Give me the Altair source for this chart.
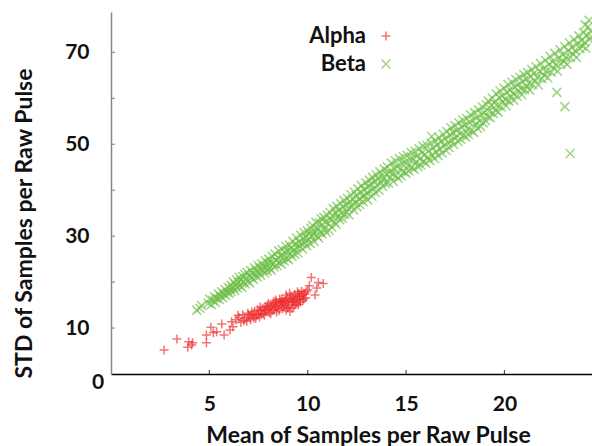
import altair as alt
import pandas as pd

# ---------------- data ----------------
series = ["Alpha", "Beta"]
colors = ["#ee2a2a", "#6cbf45"]

alpha_x = [2.7, 3.35, 3.95, 3.9, 4.1, 4.15, 4.85, 4.85, 5.08, 5.2, 5.37, 5.63, 5.75, 6.05, 6.13, 6.2,
           6.35, 6.5, 6.6, 6.7, 6.8, 6.9, 6.95, 7.0, 7.05, 7.1, 7.2, 7.25, 7.3, 7.4, 7.45, 7.5, 7.55,
           7.6, 7.7, 7.75, 7.8, 7.85, 7.9, 8.0, 8.0, 8.05, 8.1, 8.15, 8.2, 8.25, 8.3, 8.35, 8.4, 8.45,
           8.5, 8.55, 8.6, 8.65, 8.7, 8.75, 8.8, 8.85, 8.9, 8.9, 8.95, 9.0, 9.05, 9.1, 9.1, 9.15, 9.2,
           9.25, 9.3, 9.3, 9.35, 9.4, 9.45, 9.5, 9.55, 9.6, 9.7, 9.75, 9.85, 9.9, 10.0, 10.08, 10.18,
           10.37, 10.46, 10.54, 10.79,
           7.15, 7.35, 7.65, 7.95, 8.12, 8.28, 8.42, 8.58, 8.72, 8.82, 8.98, 9.08, 9.22, 9.38, 9.48,
           9.62, 9.68, 9.78, 9.92, 9.58, 8.38, 8.68, 7.82, 7.58, 6.75, 6.45, 9.2, 8.9, 9.52, 9.8]
alpha_y = [5.2, 7.6, 7.0, 5.8, 6.3, 6.8, 8.5, 6.8, 10.2, 9.0, 9.2, 10.9, 8.5, 9.6, 11.4, 10.3,
           11.8, 12.3, 11.2, 12.9, 12.0, 11.5, 13.2, 12.9, 12.4, 11.8, 13.0, 12.2, 13.6, 12.7, 14.0, 13.1, 12.4,
           13.8, 14.3, 13.2, 12.8, 14.6, 13.7, 14.2, 15.4, 13.4, 15.0, 14.6, 13.9, 15.3, 14.1, 14.8, 15.6, 14.4,
           15.1, 13.8, 15.8, 14.9, 16.2, 15.4, 14.6, 16.0, 15.2, 17.2, 16.6, 15.7, 14.9, 16.3, 13.6, 17.0, 15.6,
           16.6, 15.9, 14.8, 17.3, 16.4, 15.5, 16.9, 17.5, 16.2, 17.1, 16.0, 17.4, 16.6, 18.3, 19.2, 21.0,
           17.2, 18.7, 19.9, 19.7,
           13.5, 12.1, 13.0, 14.9, 13.1, 15.8, 13.5, 16.3, 14.2, 15.8, 14.4, 17.6, 16.1, 15.2, 17.9,
           15.6, 18.0, 17.6, 17.9, 16.8, 16.1, 15.7, 13.9, 14.6, 11.6, 12.8, 14.3, 13.9, 15.1, 16.4]

beta_x = [
    4.36, 4.52, 4.6, 4.95, 5.02, 5.1, 5.18, 5.25, 5.3, 5.38, 5.45, 5.5, 5.55, 5.62, 5.68, 5.72, 5.8,
    5.83, 5.9, 5.96, 6.0, 6.05, 6.1,
    6.12, 6.18, 6.22, 6.28, 6.33, 6.38, 6.42, 6.47, 6.52, 6.55, 6.6, 6.66, 6.7, 6.74, 6.8, 6.83, 6.88,
    6.92, 6.97, 7.02, 7.05, 7.1, 7.14, 7.2, 7.24, 7.3, 7.33, 7.38, 7.43, 7.48, 7.52, 7.57, 7.6, 7.66,
    7.7, 7.75, 7.8, 7.84, 7.88, 7.93, 7.97,
    8.02, 8.06, 8.1, 8.15, 8.2, 8.24, 8.3, 8.34, 8.38, 8.43, 8.48, 8.52, 8.57, 8.62, 8.66, 8.7, 8.75,
    8.8, 8.84, 8.88, 8.93, 8.97, 9.02, 9.06, 9.1, 9.15, 9.2, 9.24, 9.28, 9.33, 9.37, 9.42, 9.46, 9.5,
    9.55, 9.6, 9.64, 9.68, 9.73, 9.78, 9.82, 9.86, 9.9, 9.95, 9.98,
    10.03, 10.07, 10.12, 10.16, 10.2, 10.25, 10.29, 10.33, 10.38, 10.42, 10.47, 10.5, 10.55, 10.6,
    10.64, 10.68, 10.72, 10.77, 10.82, 10.86, 10.9, 10.95, 11.0, 11.04, 11.08, 11.13, 11.17, 11.22,
    11.26, 11.3, 11.35, 11.4, 11.44, 11.48, 11.53, 11.57, 11.62, 11.66, 11.7, 11.75, 11.8, 11.84,
    11.88, 11.93, 11.97,
    12.02, 12.06, 12.1, 12.15, 12.2, 12.24, 12.28, 12.33, 12.37, 12.42, 12.46, 12.5, 12.55, 12.6,
    12.64, 12.68, 12.73, 12.78, 12.82, 12.86, 12.9, 12.95, 13.0, 13.04, 13.08, 13.13, 13.18, 13.22,
    13.26, 13.3, 13.35, 13.4, 13.44, 13.48, 13.53, 13.58, 13.62, 13.67, 13.72, 13.76, 13.8, 13.85,
    13.9, 13.95,
    14.0, 14.05, 14.1, 14.15, 14.2, 14.25, 14.3, 14.35, 14.4, 14.45, 14.5, 14.55, 14.6, 14.66, 14.7,
    14.75, 14.8, 14.86, 14.9, 14.95, 15.0, 15.05, 15.1, 15.15, 15.2, 15.26, 15.3, 15.35, 15.4, 15.45,
    15.5, 15.55, 15.6, 15.66, 15.7, 15.75, 15.8, 15.86, 15.9, 15.95, 16.0, 16.05, 16.1, 16.16, 16.2,
    16.3, 16.26, 16.32, 16.38, 16.44, 16.48,
    16.53, 16.58, 16.63, 16.68, 16.72, 16.78, 16.83, 16.88, 16.93, 16.98, 17.03, 17.08, 17.13, 17.18,
    17.23, 17.28, 17.33, 17.38, 17.43, 17.48, 17.53, 17.58, 17.63, 17.68, 17.73, 17.78, 17.83, 17.88,
    17.93, 17.98, 18.03, 18.08, 18.13, 18.18, 18.23, 18.28, 18.33, 18.38, 18.43, 18.48, 18.53, 18.58,
    18.63, 18.68, 18.73, 18.78, 18.83, 18.88, 18.93, 18.98,
    19.03, 19.08, 19.13, 19.18, 19.23, 19.28, 19.33, 19.38, 19.43, 19.48, 19.53, 19.58, 19.63, 19.68,
    19.73, 19.78, 19.83, 19.88, 19.93, 19.98, 20.03, 20.08, 20.13, 20.18, 20.23, 20.28, 20.33, 20.38,
    20.43, 20.48, 20.53, 20.58, 20.63, 20.68, 20.73, 20.78, 20.83, 20.88, 20.93, 20.98, 21.03, 21.08,
    21.13, 21.18, 21.23, 21.28, 21.33, 21.38, 21.43, 21.48,
    21.55, 21.6, 21.66, 21.72, 21.78, 21.84, 21.9, 21.96, 22.02, 22.08, 22.14, 22.2, 22.26, 22.32,
    22.38, 22.44, 22.5, 22.56, 22.62, 22.66, 22.7, 22.76, 22.82, 22.88, 22.94, 23.0, 23.07, 23.06,
    23.12, 23.18, 23.24, 23.3, 23.34, 23.36, 23.42, 23.48, 23.54, 23.6, 23.66, 23.72, 23.78, 23.84,
    23.9, 23.96, 24.02, 24.08, 24.14, 24.2, 24.26, 24.32, 24.38, 24.44, 24.1, 24.3]
beta_y = [
    13.9, 14.3, 14.9, 15.4, 16.3, 15.1, 16.0, 16.8, 15.6, 16.5, 17.4, 16.2, 17.0, 17.9, 16.6, 17.5, 18.4,
    17.1, 17.8, 18.9, 17.6, 18.5, 19.3,
    17.9, 18.8, 20.0, 18.2, 19.4, 20.5, 18.7, 19.9, 21.0, 19.1, 20.3, 18.9, 21.2, 20.0, 21.7, 19.6, 20.8,
    22.1, 20.2, 21.4, 19.8, 22.5, 21.0, 22.0, 20.6, 23.1, 21.6, 22.5, 21.1, 23.6, 22.1, 23.0, 21.5, 24.0,
    22.6, 23.5, 22.0, 24.6, 23.1, 22.4, 24.1,
    25.0, 23.0, 24.4, 22.6, 25.6, 24.0, 23.3, 26.1, 24.7, 23.6, 25.3, 26.8, 24.2, 25.8, 23.9, 27.1, 25.4,
    24.6, 26.5, 27.8, 25.2, 26.9, 24.9, 28.1, 26.2, 27.4, 25.6, 28.9, 27.0, 26.1, 28.3, 29.6, 27.5, 26.4,
    28.8, 27.8, 30.2, 28.4, 27.2, 29.5, 30.8, 28.6, 29.9, 27.9, 31.2,
    29.3, 30.6, 28.4, 31.7, 29.9, 32.3, 30.4, 28.9, 31.2, 33.0, 30.1, 31.8, 29.6, 32.9,
    31.0, 33.8, 30.5, 32.4, 34.1, 31.5, 33.2, 30.8, 34.6, 32.7, 31.3, 35.2, 33.5, 32.0,
    34.4, 36.0, 33.1, 35.1, 32.6, 36.5, 34.3, 35.7, 33.6, 37.1, 35.0, 33.9, 36.4, 37.8,
    34.8, 36.9, 35.3,
    38.2, 36.0, 34.6, 37.4, 39.0, 36.5, 38.1, 35.7, 39.6, 37.3, 38.8, 36.4, 40.3, 38.0,
    36.9, 39.5, 41.0, 38.6, 37.5, 40.2, 38.9, 41.6, 39.3, 37.9, 40.8, 42.2, 39.8, 41.3,
    38.7, 42.8, 40.4, 41.9, 39.5, 43.3, 41.1, 42.5, 40.0, 44.0, 41.7, 43.2, 40.8, 42.4,
    44.6, 41.5,
    43.5, 45.1, 41.6, 44.0, 42.8, 45.9, 43.6, 41.9, 44.7, 46.4, 43.2, 45.2, 42.6, 46.9, 44.5,
    43.1, 45.8, 47.3, 44.0, 46.1, 43.7, 47.6, 45.3, 44.2, 46.7, 48.2, 45.0, 46.9, 44.6, 48.5,
    46.1, 47.4, 45.2, 49.0, 46.8, 45.5, 48.1, 49.6, 46.3, 47.8, 45.9, 49.8, 47.2, 48.6, 46.5,
    51.7, 50.3, 47.6, 49.2, 46.9, 50.7,
    48.3, 49.9, 47.5, 51.4, 49.0, 50.6, 48.1, 52.2, 49.8, 51.2, 48.7, 52.8, 50.4, 49.3,
    52.0, 53.6, 50.8, 52.6, 49.9, 54.1, 51.5, 53.0, 50.6, 54.7, 52.3, 51.1, 53.8, 55.3,
    52.0, 54.2, 51.6, 55.6, 53.3, 52.1, 54.8, 56.4, 53.0, 55.2, 52.6, 56.9, 54.3, 55.8,
    53.5, 57.5, 55.0, 53.9, 56.5, 58.1, 54.7, 56.9,
    55.2, 58.6, 56.1, 59.4, 57.2, 55.8, 58.5, 60.1, 56.7, 59.0, 57.5, 61.0, 58.6, 57.0,
    60.2, 61.6, 58.1, 60.5, 59.2, 62.2, 59.8, 58.4, 61.3, 63.0, 59.4, 61.8, 60.3, 63.5,
    61.1, 59.6, 62.4, 64.1, 60.5, 62.9, 61.6, 64.6, 62.2, 60.8, 63.6, 65.2, 61.9, 64.2,
    62.7, 65.6, 63.3, 61.8, 64.7, 66.3, 63.0, 65.4,
    63.8, 66.9, 64.6, 62.9, 65.9, 67.6, 64.3, 66.4, 65.0, 68.3, 66.0, 64.5, 67.4, 69.1,
    65.7, 68.0, 66.6, 69.8, 67.3, 61.3, 65.9, 68.7, 70.6, 67.5, 69.5, 68.1, 58.2, 71.3,
    69.0, 67.4, 70.3, 72.1, 48.0, 68.9, 71.1, 69.7, 72.8, 70.4, 68.9, 71.9, 73.6, 70.8,
    72.6, 71.4, 74.3, 72.2, 70.9, 73.7, 75.6, 72.8, 74.6, 73.4, 76.0, 77.0]

x_tick_values = [5, 10, 15, 20]
y_tick_values = [10, 20, 30, 40, 50, 60, 70]
zero_label = ["0"]

x_title = "Mean of Samples per Raw Pulse"
y_title = "STD of Samples per Raw Pulse"

# ---------------- chart ----------------
df = pd.concat([
    pd.DataFrame({"series": "Alpha", "x": alpha_x, "y": alpha_y}),
    pd.DataFrame({"series": "Beta", "x": beta_x, "y": beta_y}),
], ignore_index=True)

FONT = "Lato"
TXT = "#111111"
plus_path = "M-1,0L1,0M0,-1L0,1"
cross_path = "M-1,-1L1,1M-1,1L1,-1"

x_scale = alt.Scale(domain=[0, 24.45], nice=False, zero=False)
y_scale = alt.Scale(domain=[0, 78.8], nice=False, zero=False)

legend = alt.Legend(
    title=None, orient="none", legendX=264, legendY=13,
    labelFont=FONT, labelFontSize=22, labelFontWeight="bold", labelColor=TXT,
    labelAlign="right", labelOffset={"expr": "-31"}, symbolOffset=0, rowPadding=6, padding=0,
    symbolSize=81, symbolStrokeWidth=1.5,
)

points = alt.Chart(df).mark_point(filled=False, size=81, strokeWidth=1.5, opacity=0.65).encode(
    x=alt.X("x:Q", scale=x_scale, axis=alt.Axis(
        values=x_tick_values, title=x_title, grid=False, ticks=False,
        domainColor="#000000", domainWidth=1.5,
        labelFont=FONT, labelFontSize=21, labelFontWeight="bold", labelColor=TXT, labelPadding=19,
        titleFont=FONT, titleFontSize=23, titleFontWeight="bold", titleColor=TXT,
        titleX=257, titleY=68, titleBaseline="alphabetic", titleAnchor="middle")),
    y=alt.Y("y:Q", scale=y_scale, axis=alt.Axis(
        values=y_tick_values, title=y_title, grid=False, ticks=False,
        labelExpr="datum.value % 20 == 10 ? datum.label : ''",
        domainColor="#888888", domainWidth=1.5,
        labelFont=FONT, labelFontSize=21, labelFontWeight="bold", labelColor=TXT, labelPadding=22,
        titleFont=FONT, titleFontSize=23, titleFontWeight="bold", titleColor=TXT,
        titleAngle=-90, titleX=-87, titleY=211, titleBaseline="middle", titleAlign="center")),
    color=alt.Color("series:N", scale=alt.Scale(domain=series, range=colors), legend=legend),
    shape=alt.Shape("series:N", scale=alt.Scale(domain=series, range=[plus_path, cross_path]), legend=legend),
)

x_ticks = alt.Chart(pd.DataFrame({"v": x_tick_values})).mark_tick(
    orient="vertical", size=4, thickness=1.2, color="#000000", yOffset=-2
).encode(x=alt.X("v:Q", scale=x_scale), y=alt.datum(0))

y_ticks = alt.Chart(pd.DataFrame({"v": y_tick_values})).mark_tick(
    orient="horizontal", size=4, thickness=1.2, color="#666666", xOffset=2
).encode(y=alt.Y("v:Q", scale=y_scale), x=alt.datum(0))

zero_text = alt.Chart(pd.DataFrame({"t": zero_label})).mark_text(
    font=FONT, fontSize=21, fontWeight="bold", color=TXT, dx=-13, dy=9,
    align="center", baseline="middle"
).encode(x=alt.datum(0), y=alt.datum(0), text="t:N")

chart = alt.layer(points, x_ticks, y_ticks, zero_text).properties(
    width=481, height=362,
    autosize=alt.AutoSizeParams(type="none"),
    padding={"left": 111, "top": 12, "right": 0, "bottom": 72},
    background="white",
).configure_view(stroke=None)

chart.save("out.html", embed_options={"renderer": "svg", "actions": False})
